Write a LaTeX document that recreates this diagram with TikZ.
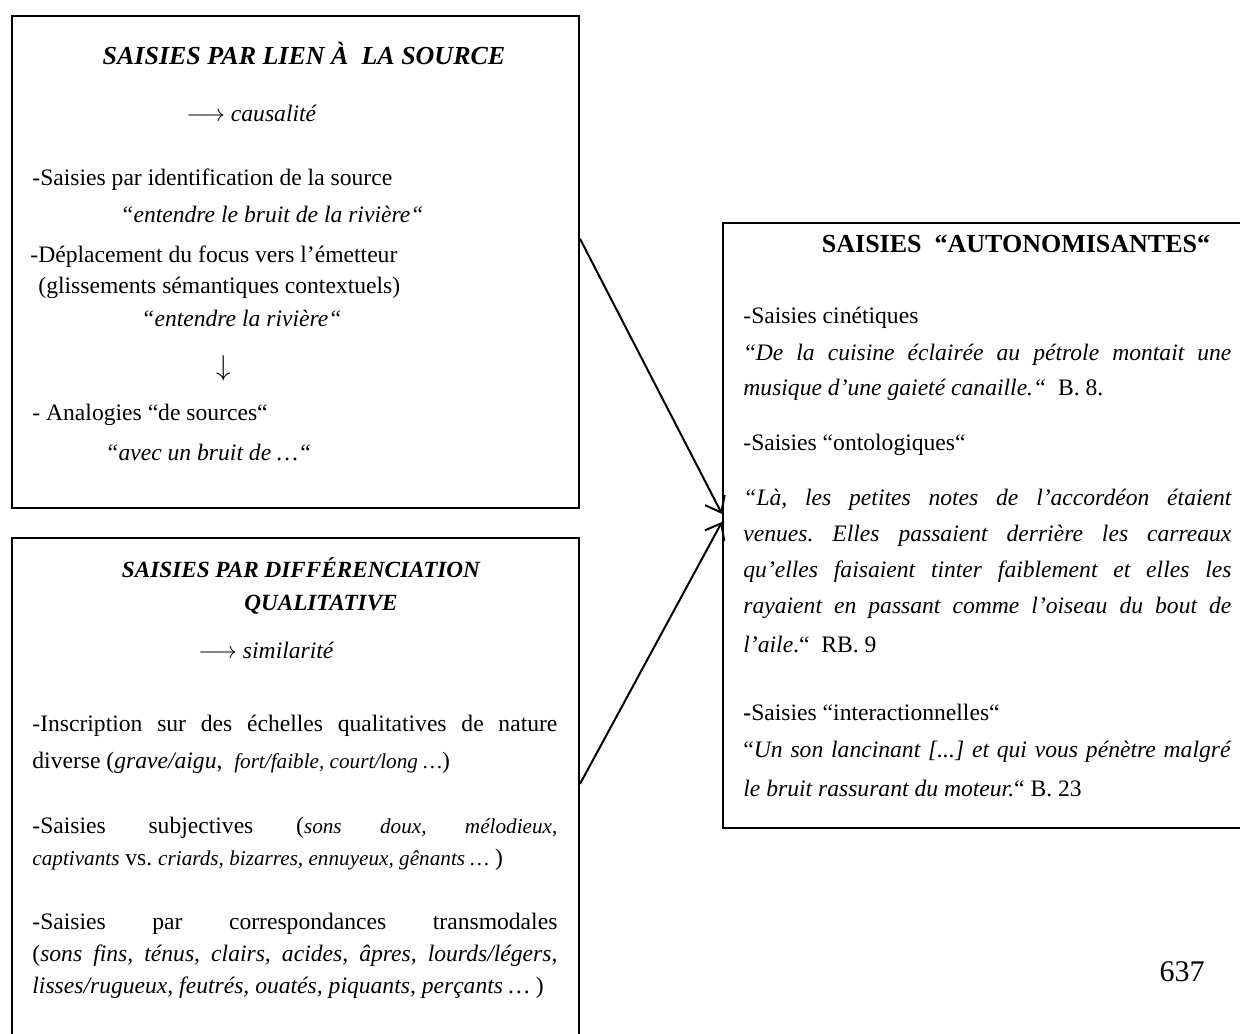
\documentclass[tikz,border=0pt]{standalone}
\usepackage{fontspec}
\setmainfont{Liberation Serif}
\usetikzlibrary{arrows.meta, positioning, calc}

\newcommand{\jline}[2]{\makebox[#1][s]{#2}}
\newcommand{\smallex}[1]{{\fontsize{10.6}{12}\selectfont\itshape #1}}

\begin{document}
\frenchspacing
\begin{tikzpicture}[
    x=0.5pt, y=-0.5pt,
    frame/.style={draw, line width=1pt, rectangle, anchor=north west, inner sep=0pt},
    txt/.style={anchor=west, inner sep=0pt, font=\fontsize{11.8}{14}\selectfont},
    ttl/.style={inner sep=0pt, font=\fontsize{13}{15}\selectfont\bfseries\itshape},
    link/.style={-{Straight Barb[length=7pt, width=11pt]}, line width=1pt}
]
    \useasboundingbox (0,0) rectangle (1240,1033);
    \clip (0,0) rectangle (1240,1033);

    \node[frame, minimum width=283.5pt, minimum height=246pt] (boxA) at (11,15) {};
    \node[frame, minimum width=283.5pt, minimum height=260pt] (boxB) at (11,537) {};
    \node[frame, minimum width=270pt, minimum height=302.5pt] (boxC) at (722,222) {};

    % source box
    \node[ttl] (titleA) at (304,53) {SAISIES PAR LIEN À\ \ LA SOURCE};
    \node[txt] (causeA) at (186,113) {$\longrightarrow$ \textit{causalité}};
    \node[txt] (identA) at (32,180) {-Saisies par identification de la source};
    \node[txt] (identEx) at (120,214) {\textit{“entendre le bruit de la rivière“}};
    \node[txt] (focusA) at (30,257) {-Déplacement du focus vers l’émetteur};
    \node[txt] (glissA) at (38,288) {(glissements sémantiques contextuels)};
    \node[txt] (focusEx) at (141,318) {\textit{“entendre la rivière“}};
    \node[inner sep=0pt, font=\fontsize{15}{15}\selectfont] (downA) at (224,368) {$\downarrow$};
    \node[txt] (analA) at (32,415) {- Analogies “de sources“};
    \node[txt] (analEx) at (105,452) {\textit{“avec un bruit de …“}};

    % quality box
    \node[ttl, font=\fontsize{11.6}{14}\selectfont\bfseries\itshape] (titleB1) at (301,568) {SAISIES PAR DIFFÉRENCIATION};
    \node[ttl, font=\fontsize{11.6}{14}\selectfont\bfseries\itshape] (titleB2) at (321,605) {QUALITATIVE};
    \node[txt] (simB) at (198,650) {$\longrightarrow$ \textit{similarité}};
    \node[txt] (inscB) at (32,726) {\jline{262.5pt}{-Inscription sur des échelles qualitatives de nature}};
    \node[txt] (inscB2) at (32,763) {diverse (\textit{grave/aigu},\ \ \smallex{fort/faible, court/long …})};
    \node[txt] (subjB) at (32,828) {\jline{262.5pt}{-Saisies subjectives (\smallex{sons doux, mélodieux,}}};
    \node[txt] (subjB2) at (32,860) {\smallex{captivants} vs. \smallex{criards, bizarres, ennuyeux, gênants …} )};
    \node[txt] (transB) at (32,924) {\jline{262.5pt}{-Saisies par correspondances transmodales}};
    \node[txt] (transB2) at (32,956) {\jline{262.5pt}{(\textit{sons fins, ténus, clairs, acides, âpres, lourds/légers,}}};
    \node[txt] (transB3) at (32,988) {\textit{lisses/rugueux, feutrés, ouatés, piquants, perçants …} )};

    % autonomous box
    \node[inner sep=0pt, font=\fontsize{13}{15}\selectfont\bfseries] (titleC) at (1016,244) {SAISIES\ \ “AUTONOMISANTES“};
    \node[txt] (kinC) at (743,318) {-Saisies cinétiques};
    \node[txt] (kinEx) at (745,355) {\jline{243pt}{“\textit{De la cuisine éclairée au pétrole montait une}}};
    \node[txt] (kinEx2) at (743,390) {\textit{musique d’une gaieté canaille.“}\ \ B. 8.};
    \node[txt] (ontoC) at (743,445) {-Saisies “ontologiques“};
    \node[txt] (ontoEx) at (743,500) {\jline{244pt}{\itshape “Là, les petites notes de l’accordéon étaient}};
    \node[txt] (ontoEx2) at (743,536) {\jline{244pt}{\itshape venues. Elles passaient derrière les carreaux}};
    \node[txt] (ontoEx3) at (743,572) {\jline{244pt}{\itshape qu’elles faisaient tinter faiblement et elles les}};
    \node[txt] (ontoEx4) at (743,608) {\jline{244pt}{\itshape rayaient en passant comme l’oiseau du bout de}};
    \node[txt] (ontoEx5) at (743,644) {\textit{l’aile}.“\ \ RB. 9};
    \node[txt] (interC) at (743,712) {\textbf{-}Saisies “interactionnelles“};
    \node[txt] (interEx) at (743,752) {\jline{244pt}{“\textit{Un son lancinant [...] et qui vous pénètre malgré}}};
    \node[txt] (interEx2) at (743,788) {\textit{le bruit rassurant du moteur.}“ B. 23};

    \node[inner sep=0pt, font=\fontsize{15}{15}\selectfont] (pagenum) at (1182,972) {637};

    \draw[link] ($(boxA.north east)!0.453!(boxA.south east)$) -- ($(boxC.north west)!0.481!(boxC.south west)$);
    \draw[link] ($(boxB.north east)!0.473!(boxB.south east)$) -- ($(boxC.north west)!0.494!(boxC.south west)$);
\end{tikzpicture}
\end{document}
